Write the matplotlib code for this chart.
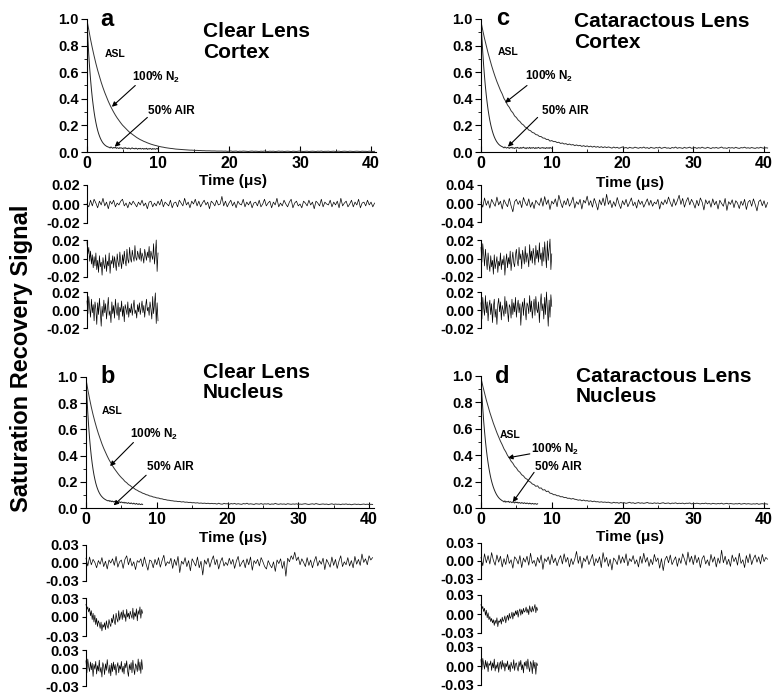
import numpy as np
import matplotlib.pyplot as plt
from matplotlib.ticker import MultipleLocator, FormatStrFormatter

plt.rcParams['font.family'] = ['Liberation Sans', 'DejaVu Sans']
plt.rcParams['font.weight'] = 'bold'
plt.rcParams['mathtext.default'] = 'regular'

# all signals in thousandths of the normalised amplitude
# decay curves: 100% N2 sampled 0..40.5 us, 50% air sampled 0..10 (a,c) or 0..8 us (b,d)
n2_a = [990, 918, 847, 782, 722, 666, 615, 568, 524, 484,
        447, 413, 381, 352, 325, 300, 277, 256, 237, 219,
        202, 188, 173, 161, 148, 138, 127, 118, 109, 101,
        93, 87, 80, 75, 69, 64, 59, 55, 51, 48,
        44, 41, 38, 36, 33, 31, 29, 27, 26, 24,
        22, 21, 20, 19, 18, 17, 16, 15, 14, 14,
        13, 12, 12, 11, 11, 10, 10, 9, 9, 9,
        8, 8, 8, 7, 7, 7, 7,
        6, 7, 5, 6, 8, 5, 6, 7, 4, 6,
        5, 7, 6, 5, 4, 6, 7, 5, 6, 5,
        4, 6, 5, 7, 5, 4, 6, 5, 6, 4,
        5, 7, 5, 6, 4, 5, 6, 5, 3, 6,
        5, 4, 6, 7, 5, 4, 5, 6, 4, 5,
        6, 5, 4, 6, 5, 7, 4, 5, 5, 6,
        4, 5, 6, 4, 5, 6, 3, 5, 6, 5,
        4, 6, 5, 4, 5, 6, 5, 4, 6, 5,
        5, 4, 6, 5, 4, 5]
air_a = [980, 850, 730, 630, 545, 470, 405, 350, 300, 258,
         222, 190, 163, 140, 121, 104, 90, 78, 68, 60,
         53, 48, 43, 40, 37,
         35, 30, 38, 33, 28, 34, 31, 36, 27, 32,
         30, 26, 33, 29, 31, 25, 30, 28, 33, 26,
         29, 24, 30, 27, 22, 28, 31, 25, 27, 23,
         29, 26, 21, 27, 24, 28, 22, 25, 27, 21,
         26, 23, 28, 20, 25, 22, 27, 24, 19, 26,
         22, 25, 20, 24, 27, 21]

n2_c = [980, 914, 853, 797, 744, 695, 649, 606, 566, 529,
        495, 463, 436, 402, 381, 353, 336, 310, 295, 271,
        259, 240, 229, 212, 203, 187, 181, 165, 160, 147,
        143, 131, 128, 117, 116, 105, 104, 94, 95, 82,
        86, 78, 79, 71, 73, 64, 68, 60, 63, 55,
        60, 53, 56, 48, 53, 47, 50, 42, 48, 41,
        46, 39, 44, 37, 43, 36, 41, 34, 40, 33,
        39, 33, 38,
        34, 29, 37, 31, 35, 28, 33, 38, 30, 34,
        27, 35, 31, 29, 36, 32, 28, 34, 30, 37,
        29, 33, 26, 35, 31, 28, 34, 30, 36, 27,
        32, 35, 29, 31, 26, 34, 30, 37, 28, 33,
        31, 27, 35, 29, 32, 36, 28, 30, 34, 27,
        33, 29, 36, 30, 28, 35, 31, 26, 33, 30,
        34, 28, 32, 37, 29, 31, 27, 34, 30, 33,
        28, 35, 30, 27, 33, 31, 36, 29, 32, 28,
        34, 30, 27, 33, 29, 35, 31, 28, 32, 30]
air_c = [975, 860, 750, 650, 565, 490, 425, 368, 318, 275,
         237, 205, 177, 153, 132, 114, 99, 86, 75, 66,
         58, 52, 47, 43, 40,
         36, 31, 38, 33, 29, 35, 32, 27, 34, 30,
         36, 28, 32, 26, 33, 30, 35, 29, 31, 27,
         34, 28, 32, 36, 29, 31, 25, 33, 30, 28,
         35, 27, 32, 29, 34, 30, 26, 33, 28, 31,
         35, 29, 27, 32, 30, 34, 28, 31, 26, 33,
         29, 32, 27, 34, 30, 28]

n2_b = [985, 905, 835, 770, 712, 660, 612, 568, 528, 490,
        456, 425, 396, 369, 345, 322, 301, 282, 264, 247,
        232, 219, 203, 193, 179, 171, 159, 152, 141, 135,
        126, 121, 113, 109, 102, 99, 92, 90, 84, 82,
        77, 76, 71, 70, 65, 64, 60, 59, 56, 55,
        52, 52, 49, 50, 46, 48, 44, 45, 42, 43,
        40, 41, 38, 40, 36, 38, 35, 37, 34, 36,
        33, 35, 33,
        34, 30, 36, 31, 29, 35, 32, 33, 28, 34,
        31, 35, 29, 33, 30, 28, 34, 31, 36, 29,
        32, 30, 27, 33, 31, 29, 34, 28, 32, 30,
        33, 27, 31, 29, 35, 30, 28, 32, 29, 31,
        27, 33, 30, 28, 31, 29, 32, 27, 30, 28,
        31, 33, 29, 27, 30, 32, 28, 34, 30, 27,
        29, 31, 28, 30, 26, 29, 32, 27, 30, 28,
        29, 26, 30, 28, 31, 27, 29, 25, 28, 30,
        27, 29, 26, 28, 30, 27, 29, 26, 28, 27]
air_b = [980, 850, 730, 625, 535, 460, 395, 340, 293, 253,
         220, 191, 167, 147, 130, 116, 104, 94, 86, 79,
         73, 68, 64, 60, 57,
         54, 58, 50, 55, 48, 53, 46, 51, 49, 44,
         50, 45, 42, 48, 41, 46, 43, 39, 44, 37,
         42, 38, 35, 41, 36, 33, 39, 34, 31, 37,
         32, 29, 35, 30, 27, 33, 28, 26, 31, 27]

n2_d = [985, 925, 870, 818, 770, 724, 682, 642, 605, 570,
        537, 506, 479, 448, 426, 398, 380, 355, 339, 316,
        303, 282, 271, 252, 243, 226, 218, 203, 196, 182,
        177, 164, 168, 150, 152, 136, 139, 124, 128, 112,
        110, 101, 101, 93, 93, 85, 86, 79, 80, 73,
        74, 68, 72, 66, 64, 59, 62, 55, 60, 54,
        56, 51, 54, 48, 52, 47, 48, 44, 47, 43,
        45, 42, 44,
        40, 37, 43, 39, 41, 36, 42, 38, 40, 35,
        39, 43, 37, 40, 34, 38, 41, 36, 39, 35,
        38, 42, 36, 37, 34, 39, 35, 38, 33, 37,
        40, 34, 36, 38, 32, 37, 35, 39, 33, 36,
        34, 37, 32, 36, 35, 38, 31, 35, 33, 36,
        34, 31, 35, 33, 37, 32, 34, 30, 35, 33,
        31, 34, 32, 36, 30, 33, 35, 31, 34, 32,
        30, 33, 31, 35, 29, 32, 34, 30, 33, 31,
        29, 32, 30, 34, 28, 31, 33, 30, 32, 29]
air_d = [980, 860, 755, 660, 580, 508, 445, 390, 342, 300,
         263, 230, 202, 178, 157, 139, 123, 109, 97, 87,
         78, 71, 65, 60, 55,
         52, 46, 54, 44, 49, 47, 51, 42, 48, 45,
         40, 47, 43, 38, 45, 41, 44, 37, 42, 39,
         35, 41, 38, 34, 40, 36, 33, 38, 35, 31,
         37, 33, 30, 35, 32, 29, 34, 31, 28, 32]

# fit residuals (thousandths)
res_a_n2 = [0, -3, 4, -2, 5, 1, -4, 3, -1, 6,
            -2, 2, -5, 3, 0, 4, -3, 1, -1, 3,
            5, -2, 1, -4, 2, -1, 3, 0, -3, 2,
            -1, 4, -2, 1, -5, 2, 3, -3, 1, -2,
            3, -1, 5, -3, 2, 0, -2, 4, -4, 1,
            2, -3, 4, 1, -2, 6, -1, 2, -4, 3,
            0, 5, -2, 3, -3, 1, 4, -1, 2, -5,
            3, 1, -2, 4, -1, 0, 8, -2, 3, -3,
            1, 4, -2, 2, -4, 3, 0, -1, 5, -3,
            2, -1, 3, -4, 1, 2, -2, 4, -3, 0,
            5, -2, 1, 3, -4, 2, -1, 6, -3, 1,
            -2, 4, 0, -3, 2, 5, -4, 1, 3, -2,
            0, -4, 3, 1, -2, 4, -1, 2, -5, 3,
            1, -2, 5, -3, 2, 0, -1, 4, -3, 2,
            -1, 3, -4, 6, -2, 1, 3, -3, 0, 4,
            -3, 2, -1, 5, -4, 1, 2, -2, 4, -1,
            2, -3, 1]
res_a_air1 = [18, 5, 12, -3, 8, -6, 4, -10, 2, -8,
              6, -12, -2, -15, 3, -9, -4, -18, 1, -7,
              -11, 4, -14, -3, -8, 6, -16, -2, -6, 3,
              -10, 2, -5, -13, 5, -4, -9, 7, -3, -11,
              4, -6, 8, -2, -8, 10, -1, -5, 12, 0,
              -4, 9, 2, -3, 14, 1, -2, 8, 3, -1,
              11, -3, 6, 2, -5, 10, 4, -2, 7, 1,
              13, -4, 8, 3, -1, 16, -6, 5, 20, -14,
              6]
res_a_air2 = [10, -4, 15, 2, -8, 12, -3, 6, -12, 9,
              1, -16, 8, -5, 13, -2, -18, 4, -7, 11,
              -3, 7, -10, 2, 14, -6, -1, -14, 9, -4,
              5, -9, 12, 0, -6, 8, -11, 3, -2, 10,
              -7, 4, -13, 6, 1, -5, 9, -8, 2, -3,
              7, -6, 3, 11, -4, 0, -9, 6, -2, 8,
              -5, 2, 10, -3, 5, -8, 4, 12, -1, 3,
              -6, 9, 1, -10, 15, -4, 6, 19, -15, 8,
              -12]

res_c_n2 = [3, -8, 12, -4, 6, -10, 9, 1, -6, 14,
            -3, 5, -12, 8, 0, -7, 11, -5, -18, 4,
            9, -2, 6, -9, 13, 2, -5, 10, -8, 3,
            -11, 7, 1, -4, 12, -6, 15, -2, 8, -13,
            5, -1, 10, -7, 18, 3, -9, 6, -3, 11,
            -6, 2, 14, -10, 4, -2, 9, -12, 7, 1,
            16, -4, 6, -8, 11, 0, -14, 8, -3, 12,
            -5, 20, -2, 7, -9, 4, -6, 13, -1, -11,
            6, -3, 9, -7, 2, 12, -5, 3, -10, 8,
            -2, 5, -8, 1, 10, -4, 7, -6, 3, -1,
            9, -12, 4, -3, 8, -1, 14, 2, -7, 10,
            -4, 6, 18, -2, 11, -8, 5, 13, -3, 9,
            1, -10, 7, -5, 12, 3, -14, 8, -1, 6,
            -8, 10, -3, 5, -12, 7, 0, -6, 11, -15,
            4, -2, 8, -9, 6, 1, -11, 5, -4, 9,
            -13, 3, 7, -6, 10, -2, -16, 4, 8, -5,
            6, -9, 2]
res_c_air1 = [12, -4, 16, 5, -8, 10, -2, -12, 6, -6,
              -14, 3, -9, -2, -17, 4, -11, -5, 2, -15,
              -3, -8, 6, -12, -1, -7, 3, -18, -4, 5,
              -10, 1, -6, 8, -13, -2, 7, -5, -9, 4,
              10, -3, -8, 12, -1, 5, -11, 9, 2, -6,
              13, -4, 6, 1, -9, 15, -2, 8, -5, 11,
              3, -7, 14, 0, 9, -4, 17, -1, 6, -8,
              12, -3, 18, 4, -10, 19, -2, 10, 21, -12,
              5]
res_c_air2 = [8, -10, 14, 2, -6, 16, -3, 9, -12, 4,
              11, -5, 7, -14, 3, 12, -8, 1, -16, 6,
              13, -2, 9, -11, 5, 0, -7, 15, -4, 10,
              -1, -13, 6, 3, -9, 12, -5, 8, -2, 14,
              -8, 4, 11, -3, 7, -17, 2, 9, -6, 13,
              0, -11, 8, 5, -4, 16, -2, 10, -9, 3,
              12, -6, 15, 1, -3, 9, -14, 6, 18, -1,
              7, -10, 14, -5, 20, 2, -18, 11, -8, 17,
              4]

res_b_n2 = [8, -5, 10, -3, 6, 1, -8, 4, -2, 9,
            -6, 3, -10, 5, 0, 7, -4, 11, -7, 2,
            5, -9, 6, 12, -3, 8, -5, 2, -11, 4,
            1, 7, -6, 10, -2, -12, 5, 3, -8, 6,
            -3, 9, -7, 4, 13, -5, 2, -1, 8, -9,
            6, -4, 11, -16, 3, -2, 9, -6, 4, -13,
            7, 1, -5, 10, -8, 3, -20, 5, -2, 8,
            -7, 4, 12, -3, 6, -10, 2, 9, -5, 1,
            -4, 8, -2, 6, -9, 3, 11, -6, 0, 5,
            -8, 7, -3, 10, -12, 4, -1, 6, -5, 9,
            2, -6, -10, 4, -3, -8, 2, -14, 5, -1,
            7, -9, 3, -22, 8, 2, 12, 6, 18, 4,
            10, -3, 7, 1, -6, 9, -4, 5, -8, 3,
            11, -5, 4, -2, 8, -11, 6, 0, -7, 10,
            -4, 6, -9, 3, 12, -6, 2, -3, 9, -5,
            4, -8, 11, -2, 6, -4, 15, 1, 7, -3,
            12, 5, 9]
res_b_air1 = [20, 12, 16, 8, 14, 2, 10, -4, 6, -8,
              3, -12, -2, -15, -6, -10, -18, -8, -22, -12,
              -16, -9, -20, -6, -14, -18, -4, -11, -15, -2,
              -9, 4, -7, -12, 6, -3, -8, 10, -5, 2,
              8, -4, 11, -1, 5, -7, 12, 0, 6, -3,
              9, 3, -2, 14, -4, 7, 1, 13, -6, 10,
              4, 16, -2, 12, 6]
res_b_air2 = [12, -8, 15, 2, -6, 10, -3, 8, -14, 6,
              -2, 11, -10, 4, -5, 13, -7, 1, -15, 9,
              3, -11, 7, -4, 14, -1, -9, 5, -13, 8,
              -6, 10, -3, 6, -12, 2, 9, -8, 4, -2,
              11, -7, 3, -10, 8, 0, 12, -5, -14, 6,
              -3, 9, -8, 13, -1, -11, 7, 3, -6, 15,
              -4, 10, -9, 14, -2]

res_d_n2 = [6, -8, 12, -3, 9, -5, 14, 1, -7, 10,
            -2, 8, -10, 4, -6, 11, -4, 2, -12, 7,
            3, -5, 9, -11, 5, -2, 8, -7, 13, -4,
            1, -9, 6, -3, 10, -14, 4, -1, 7, -6,
            11, -3, 5, -8, 2, 9, -5, 12, -2, 6,
            -10, 4, -6, 3, 16, -4, 8, -12, 5, -1,
            9, -6, 2, 11, -8, 4, -3, 7, -11, 14,
            -2, 6, -9, 3, -15, 5, 1, -6, 10, -4,
            7, -3, 12, -8, 4, -1, 9, -5, 2, -10,
            8, -4, 13, -2, 6, -9, 3, -6, 11, -1,
            5, -12, 4, -16, 2, 8, -3, 10, -6, 1,
            7, -9, 5, -4, 12, 3, -7, 15, -2, 8,
            -6, 10, -3, 6, -11, 4, 9, -5, 2, -8,
            11, -2, 7, -10, 5, -4, 18, -3, 8, -6,
            3, -9, 10, -1, 6, -7, 13, -4, 2, -11,
            9, -3, 12, -6, 4, 10, -2, 7, -5, 11,
            -1, 6, 3]
res_d_air1 = [15, 8, 12, 4, 9, -2, 6, -6, 2, -9,
              -4, -12, -7, -14, -9, -18, -10, -15, -6, -20,
              -11, -13, -8, -16, -5, -12, -9, -3, -14, -6,
              -2, -10, 1, -7, -4, 3, -8, 2, -3, 5,
              -1, 6, -5, 4, 8, -2, 7, 0, 9, 3,
              5, 11, 2, 8, -1, 13, 6, 3, 12, 4,
              9, 15, 2, 11, 6]
res_d_air2 = [10, -6, 12, 3, -5, 9, -2, 7, -9, 4,
              1, 8, -7, 5, -3, 11, -8, 2, -4, 6,
              -10, 3, 7, -5, 9, -2, 5, -8, 4, -1,
              8, -6, 2, -9, 6, 0, -4, 10, -7, 3,
              5, -3, -8, 7, -1, 9, -6, 2, -11, 6,
              0, 8, -5, 11, -2, -9, 7, 3, -12, 9,
              -4, 6, -13, 5, 1]

T_END = 40.5
XMAX = 40.7
W, H = 775, 694
fig = plt.figure(figsize=(W / 100, H / 100), dpi=100)


def box(x0, y0, x1, y1):
    # pixel box (top-left origin) -> figure axes
    return fig.add_axes([x0 / W, 1 - y1 / H, (x1 - x0) / W, (y1 - y0) / H])


def ftext(x, y, s, **kw):
    fig.text(x / W, 1 - y / H, s, **kw)


def milli(v):
    return np.asarray(v) / 1000.0


panels = [
    dict(letter='a', title='Clear Lens\nCortex', main=(87, 19, 376, 152),
         n2=n2_a, air=air_a, air_end=10,
         res=[(res_a_n2, T_END, 185, 223, 0.02), (res_a_air1, 10, 240, 277, 0.02),
              (res_a_air2, 10, 292, 328, 0.02)],
         title_xy=(203, 22), letter_xy=(100, 26), time_xy=(233, 181),
         asl=(3.9, 0.74), n2_txt=(6.3, 0.56), n2_arr=((6.8, 0.50), (3.5, 0.34)),
         air_txt=(8.6, 0.31), air_arr=((8.5, 0.26), (3.9, 0.04))),
    dict(letter='c', title='Cataractous Lens\nCortex', main=(481, 19, 769, 152),
         n2=n2_c, air=air_c, air_end=10,
         res=[(res_c_n2, T_END, 185, 222, 0.04), (res_c_air1, 10, 240, 277, 0.02),
              (res_c_air2, 10, 292, 328, 0.02)],
         title_xy=(574, 12), letter_xy=(496, 25), time_xy=(630, 183),
         asl=(3.9, 0.75), n2_txt=(6.2, 0.57), n2_arr=((6.5, 0.50), (3.4, 0.37)),
         air_txt=(8.6, 0.31), air_arr=((8.0, 0.26), (3.8, 0.04))),
    dict(letter='b', title='Clear Lens\nNucleus', main=(86, 377, 374, 508),
         n2=n2_b, air=air_b, air_end=8,
         res=[(res_b_n2, T_END, 545, 581, 0.03), (res_b_air1, 8, 598, 636, 0.03),
              (res_b_air2, 8, 650, 686, 0.03)],
         title_xy=(203, 363), letter_xy=(100, 383), time_xy=(233, 538),
         asl=(3.7, 0.74), n2_txt=(6.2, 0.56), n2_arr=((6.7, 0.50), (3.4, 0.32)),
         air_txt=(8.6, 0.31), air_arr=((8.5, 0.25), (3.9, 0.02))),
    dict(letter='d', title='Cataractous Lens\nNucleus', main=(481, 376, 769, 508),
         n2=n2_d, air=air_d, air_end=8,
         res=[(res_d_n2, T_END, 543, 579, 0.03), (res_d_air1, 8, 595, 633, 0.03),
              (res_d_air2, 8, 647, 685, 0.03)],
         title_xy=(576, 367), letter_xy=(495, 383), time_xy=(630, 537),
         asl=(4.1, 0.55), n2_txt=(7.1, 0.44), n2_arr=((6.9, 0.41), (3.8, 0.38)),
         air_txt=(7.6, 0.31), air_arr=((7.5, 0.27), (4.5, 0.045))),
]

arrow = dict(arrowstyle='-|>', color='black', lw=0.8, mutation_scale=7,
             shrinkA=0, shrinkB=0)

for p in panels:
    ax = box(*p['main'])
    ax.patch.set_visible(False)
    t = np.linspace(0, T_END, len(p['n2']))
    ax.plot(t, milli(p['n2']), color='#333333', lw=0.7)
    ta = np.linspace(0, p['air_end'], len(p['air']))
    ax.plot(ta, milli(p['air']), color='#222222', lw=0.7)
    ax.set_xlim(0, XMAX)
    ax.set_ylim(0, 1.0)
    ax.spines[['top', 'right']].set_visible(False)
    ax.xaxis.set_major_locator(MultipleLocator(10))
    ax.xaxis.set_minor_locator(MultipleLocator(5))
    ax.yaxis.set_major_locator(MultipleLocator(0.2))
    ax.yaxis.set_minor_locator(MultipleLocator(0.1))
    ax.yaxis.set_major_formatter(FormatStrFormatter('%.1f'))
    ax.tick_params(axis='x', which='both', direction='in', labelsize=11.5, pad=3)
    ax.tick_params(axis='y', which='both', direction='out', labelsize=10.5, pad=2)
    ax.tick_params(which='major', length=4)
    ax.tick_params(which='minor', length=2)

    ax.text(*p['asl'], 'ASL', fontsize=7.5, ha='center', va='center')
    ax.text(*p['n2_txt'], '100% N$_2$', fontsize=8.5, ha='left', va='center')
    ax.text(*p['air_txt'], '50% AIR', fontsize=8.5, ha='left', va='center')
    ax.annotate('', xy=p['n2_arr'][1], xytext=p['n2_arr'][0], arrowprops=arrow)
    ax.annotate('', xy=p['air_arr'][1], xytext=p['air_arr'][0], arrowprops=arrow)

    ftext(*p['letter_xy'], p['letter'], fontsize=17, ha='left', va='baseline')
    ftext(*p['title_xy'], p['title'], fontsize=15, ha='left', va='top',
          linespacing=1.1)
    ftext(*p['time_xy'], 'Time (μs)', fontsize=11, ha='center', va='center')

    for vals, t_end, y0, y1, lim in p['res']:
        r = box(p['main'][0], y0, p['main'][2], y1)
        r.patch.set_visible(False)
        tr = np.linspace(0, t_end, len(vals))
        r.plot(tr, milli(vals), color='black', lw=0.5, clip_on=False)
        r.set_xlim(0, XMAX)
        r.set_ylim(-lim, lim)
        r.spines[['top', 'right', 'bottom']].set_visible(False)
        r.set_xticks([])
        r.set_yticks([-lim, 0, lim])
        r.yaxis.set_major_formatter(FormatStrFormatter('%.2f'))
        r.tick_params(axis='y', direction='out', length=3, labelsize=10.5, pad=2)

ftext(22, 358, 'Saturation Recovery Signal', fontsize=17, rotation=90,
      ha='center', va='center')

fig.savefig('out.png', dpi=100)
